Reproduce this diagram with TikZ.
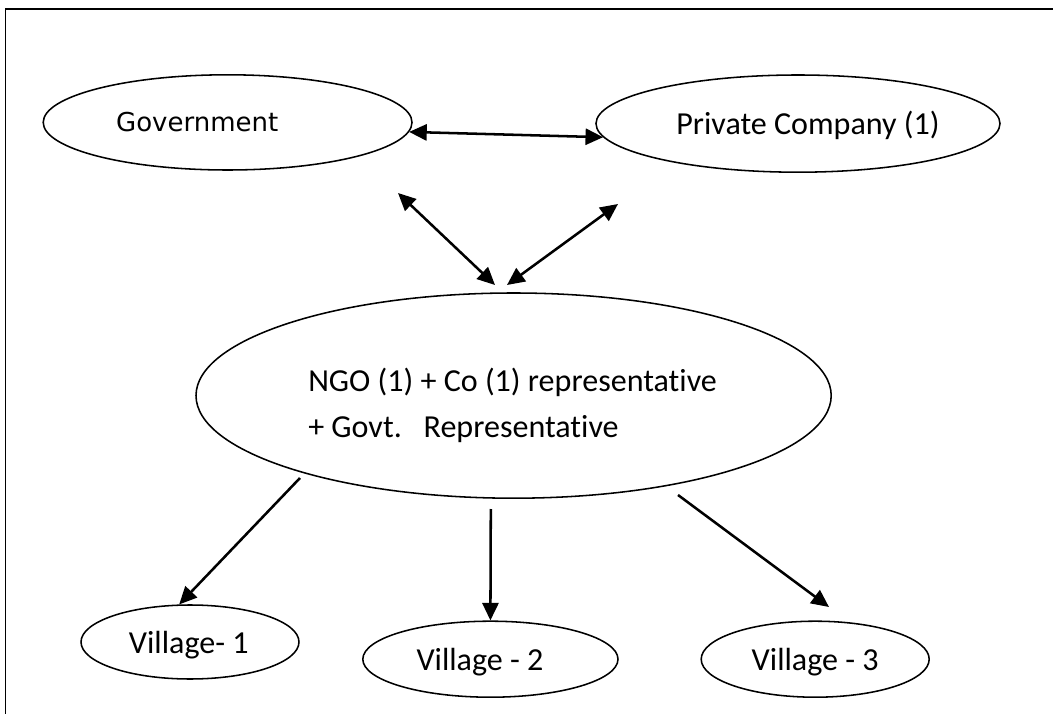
\documentclass[tikz,border=0pt]{standalone}
\usepackage{fontspec}
\setmainfont{Carlito}[Ligatures=NoCommon]
\newfontfamily\govfont{DejaVu Sans}
\usetikzlibrary{positioning,shapes.geometric,arrows.meta,calc}
\tikzset{
  every node/.style={font=\fontsize{22.8}{32.7}\selectfont},
  % --- nodes
  oval/.style  = {ellipse, draw=black, line width=1.1pt, fill=white, inner sep=0pt},
  lbl/.style   = {align=left, inner sep=0pt},
  % --- edges
  e/.style     = {-{Triangle[length=12.5pt,width=11.5pt]}, line width=1.8pt},
  ebi/.style   = {{Triangle[length=12.5pt,width=11.5pt]}-{Triangle[length=12.5pt,width=11.5pt]},
                  line width=1.8pt},
}

\begin{document}
\begin{tikzpicture}
  \useasboundingbox (0,0) rectangle (26.325,-17.85);
  % page frame
  \draw[line width=1.3pt] (0.1375,-17.9) -- (0.1375,-0.225) -- (26.4,-0.225);

  % top row
  \node[oval, minimum width=9.22cm, minimum height=2.38cm] (gov) at (5.69,-3.06) {};
  \node[lbl, font=\govfont\fontsize{18.5}{22}\selectfont] (gov-txt) at (4.93,-3.05) {Government};
  \node[oval, minimum width=10.1cm, minimum height=2.43cm] (pc) at (19.95,-3.09) {};
  \node[lbl] (pc-txt) at (20.2,-3.125) {Private Company (1)};

  % middle
  \node[oval, minimum width=15.88cm, minimum height=5.13cm] (ngo) at (12.84,-9.89) {};
  \node[lbl, anchor=west] (ngo-txt) at (7.7,-10.14)
    {NGO (1) + Co (1) representative\\+ Govt.\ \ \ Representative};

  % villages
  \node[oval, minimum width=5.45cm, minimum height=1.85cm] (v1) at (4.75,-16.05) {};
  \node[lbl] (v1-txt) at (4.72,-16.12) {Village- 1};
  \node[oval, minimum width=6.38cm, minimum height=1.9cm] (v2) at (12.26,-16.48) {};
  \node[lbl] (v2-txt) at (12.0,-16.55) {Village - 2};
  \node[oval, minimum width=5.7cm, minimum height=1.9cm] (v3) at (20.38,-16.48) {};
  \node[lbl] (v3-txt) at (20.38,-16.55) {Village - 3};

  % free arrow ends
  \coordinate (a1t) at (9.95,-4.825);
  \coordinate (a1b) at (12.375,-7.125);
  \coordinate (a2t) at (15.45,-5.1);
  \coordinate (a2b) at (12.675,-7.125);
  \coordinate (d1s) at (7.5,-11.95);
  \coordinate (d2s) at (12.27,-12.725);
  \coordinate (d3s) at (16.95,-12.375);
  \coordinate (d3e) at (20.725,-15.175);

  % links
  \draw[ebi] (gov.-3) -- (pc.184);
  \draw[ebi] (a1t) -- (a1b);
  \draw[ebi] (a2t) -- (a2b);
  \draw[e] (d1s) -- (v1.106);
  \draw[e] (d2s) -- (v2.north);
  \draw[e] (d3s) -- (d3e);
\end{tikzpicture}
\end{document}
